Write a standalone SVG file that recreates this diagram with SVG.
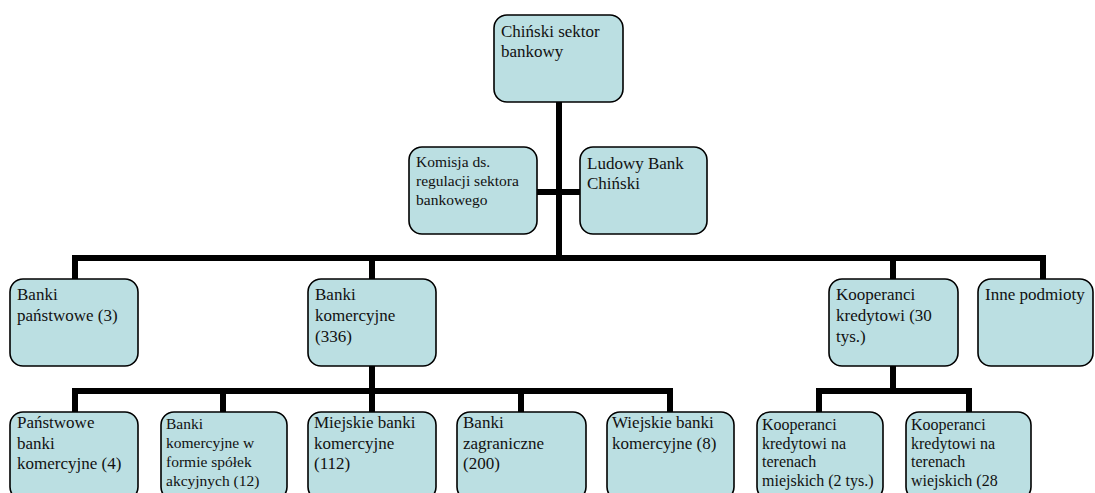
<svg xmlns="http://www.w3.org/2000/svg" width="1095" height="493" viewBox="0 0 1095 493">
<style>
.box{fill:#bbdfe2;stroke:#000;stroke-width:1.6}
text{font-family:'Liberation Serif','Times New Roman',serif;font-size:17px;fill:#111}
.s{font-size:15.5px}
.k{font-size:16px}
.c{stroke:#000;stroke-width:6;fill:none}
</style>
<rect width="1095" height="493" fill="#fff"/>
<g id="connectors">
<path class="c" d="M559 102V258"/>
<path class="c" d="M537 192H580"/>
<path class="c" d="M75 279V258H1043V279"/>
<path class="c" d="M372 258V279"/>
<path class="c" d="M893 258V279"/>
<path class="c" d="M372 366V391"/>
<path class="c" d="M75 412V391H670V412"/>
<path class="c" d="M223 391V412"/>
<path class="c" d="M372 391V412"/>
<path class="c" d="M521 391V412"/>
<path class="c" d="M893 366V391"/>
<path class="c" d="M819 412V391H969V412"/>
</g>
<g id="n-root"><rect class="box" x="494" y="15" width="129" height="87" rx="13"/><text x="501" y="37">Chiński sektor<tspan x="501" dy="20">bankowy</tspan></text></g>
<g id="n-komisja"><rect class="box" x="409" y="147" width="128" height="87" rx="13"/><text class="s" x="416" y="167">Komisja ds.<tspan x="416" dy="19">regulacji sektora</tspan><tspan x="416" dy="19">bankowego</tspan></text></g>
<g id="n-ludowy"><rect class="box" x="580" y="147" width="127" height="87" rx="13"/><text x="587" y="169">Ludowy Bank<tspan x="587" dy="20">Chiński</tspan></text></g>
<g id="n-panstwowe"><rect class="box" x="10" y="279" width="128" height="87" rx="13"/><text x="17" y="300">Banki<tspan x="17" dy="21">państwowe (3)</tspan></text></g>
<g id="n-komercyjne"><rect class="box" x="308" y="279" width="128" height="87" rx="13"/><text x="315" y="300">Banki<tspan x="315" dy="21">komercyjne</tspan><tspan x="315" dy="21">(336)</tspan></text></g>
<g id="n-kooperanci"><rect class="box" x="829" y="279" width="129" height="87" rx="13"/><text x="836" y="300">Kooperanci<tspan x="836" dy="21">kredytowi (30</tspan><tspan x="836" dy="21">tys.)</tspan></text></g>
<g id="n-inne"><rect class="box" x="978" y="279" width="115" height="87" rx="13"/><text x="985" y="300">Inne podmioty</text></g>
<g id="n-pbk"><rect class="box" x="10" y="412" width="128" height="88" rx="13"/><text x="17" y="428">Państwowe<tspan x="17" dy="20.5">banki</tspan><tspan x="17" dy="20.5">komercyjne (4)</tspan></text></g>
<g id="n-akcyjne"><rect class="box" x="161" y="412" width="126" height="88" rx="13"/><text class="s" x="166" y="429">Banki<tspan x="166" dy="19">komercyjne w</tspan><tspan x="166" dy="19">formie spółek</tspan><tspan x="166" dy="19">akcyjnych (12)</tspan></text></g>
<g id="n-miejskie"><rect class="box" x="308" y="412" width="128" height="88" rx="13"/><text x="314" y="428">Miejskie banki<tspan x="314" dy="20.5">komercyjne</tspan><tspan x="314" dy="20.5">(112)</tspan></text></g>
<g id="n-zagraniczne"><rect class="box" x="457" y="412" width="129" height="88" rx="13"/><text x="463" y="428">Banki<tspan x="463" dy="20.5">zagraniczne</tspan><tspan x="463" dy="20.5">(200)</tspan></text></g>
<g id="n-wiejskie"><rect class="box" x="607" y="412" width="127" height="88" rx="13"/><text x="612" y="428">Wiejskie banki<tspan x="612" dy="20.5">komercyjne (8)</tspan></text></g>
<g id="n-kk-miejskie"><rect class="box" x="757" y="412" width="126" height="88" rx="13"/><text class="k" x="762" y="430">Kooperanci<tspan x="762" dy="18.5">kredytowi na</tspan><tspan x="762" dy="18.5">terenach</tspan><tspan x="762" dy="18.5">miejskich (2 tys.)</tspan></text></g>
<g id="n-kk-wiejskie"><rect class="box" x="906" y="412" width="125" height="88" rx="13"/><text class="k" x="911" y="430">Kooperanci<tspan x="911" dy="18.5">kredytowi na</tspan><tspan x="911" dy="18.5">terenach</tspan><tspan x="911" dy="18.5">wiejskich (28</tspan></text></g>
</svg>
